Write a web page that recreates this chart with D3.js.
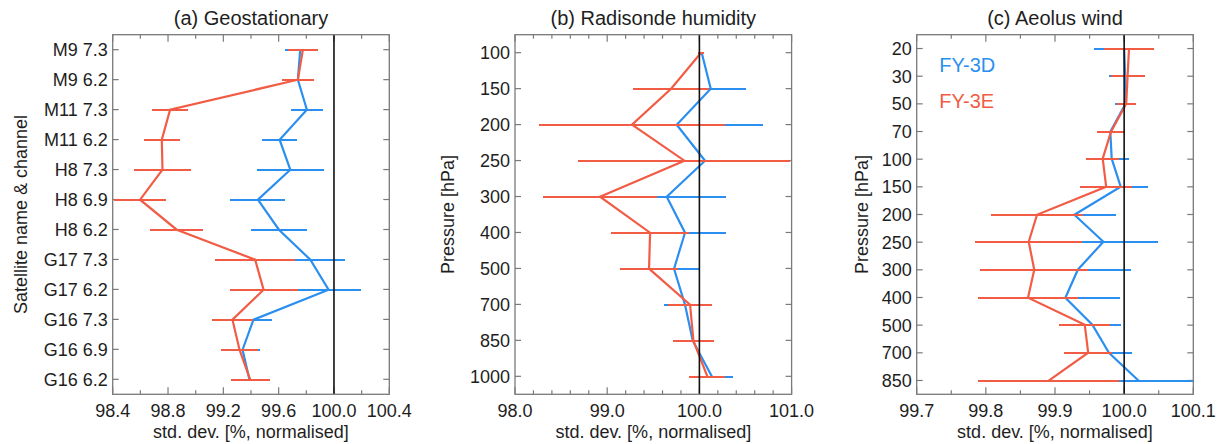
<!DOCTYPE html>
<html>
<head>
<meta charset="utf-8">
<script src="https://cdn.jsdelivr.net/npm/d3@7"></script>
<style>
	body { margin: 0; background: #fff; }
	svg { display: block; font-family: "Liberation Sans", Arial, sans-serif; }
</style>
</head>
<body>
<div id="chart"></div>
<script>
var colors = {
	fy3d: "#2b8ff0",
	fy3e: "#f25c45",
	frame: "#7a7a7a",
	text: "#1e1e1e"
};

// (a) geostationary radiances
var geoLabels = ["M9 7.3", "M9 6.2", "M11 7.3", "M11 6.2", "H8 7.3", "H8 6.9", "H8 6.2", "G17 7.3", "G17 6.2", "G16 7.3", "G16 6.9", "G16 6.2"];
var geo3D    = [99.756, 99.739, 99.804, 99.607, 99.684, 99.450, 99.602, 99.829, 99.961, 99.418, 99.339, 99.389];
var geo3DErr = [0.113, 0.105, 0.118, 0.127, 0.241, 0.199, 0.203, 0.253, 0.234, 0.133, 0.123, 0.100];
var geo3E    = [99.775, 99.739, 98.815, 98.755, 98.760, 98.598, 98.863, 99.430, 99.491, 99.266, 99.317, 99.394];
var geo3EErr = [0.107, 0.115, 0.129, 0.132, 0.209, 0.190, 0.191, 0.290, 0.246, 0.150, 0.135, 0.140];

// (b) radiosonde humidity
var raobLevels = ["100", "150", "200", "250", "300", "400", "500", "700", "850", "1000"];
var raob3D    = [100.025, 100.123, 99.754, 100.061, 99.646, 99.844, 99.725, 99.844, 99.928, 100.137];
var raob3DErr = [0.010, 0.383, 0.933, 0.800, 0.644, 0.445, 0.275, 0.224, 0.200, 0.224];
var raob3E    = [100.018, 99.693, 99.269, 99.837, 98.922, 99.465, 99.454, 99.899, 99.935, 100.087];
var raob3EErr = [0.035, 0.410, 1.010, 1.150, 0.615, 0.427, 0.310, 0.235, 0.224, 0.195];

// (c) aeolus wind
var aeolusLevels = ["20", "30", "50", "70", "100", "150", "200", "250", "300", "400", "500", "700", "850"];
var aeolus3D    = [100.000, 100.0015, 100.002, 99.980, 99.982, 99.995, 99.928, 99.970, 99.933, 99.915, 99.954, 99.978, 100.021];
var aeolus3DErr = [0.043, 0.024, 0.015, 0.018, 0.025, 0.040, 0.060, 0.079, 0.077, 0.079, 0.041, 0.034, 0.100];
var aeolus3E    = [100.007, 100.005, 100.003, 99.981, 99.969, 99.974, 99.874, 99.862, 99.870, 99.861, 99.943, 99.948, 99.891];
var aeolus3EErr = [0.036, 0.0245, 0.014, 0.0197, 0.024, 0.0375, 0.066, 0.077, 0.078, 0.072, 0.037, 0.035, 0.102];

var seriesNames = ["FY-3D", "FY-3E"];

var panels = [
	{
		title: "(a) Geostationary", ylabel: "Satellite name & channel",
		left: 112.7, ylabelX: 20,
		cats: geoLabels, d3d: geo3D, e3d: geo3DErr, d3e: geo3E, e3e: geo3EErr,
		domain: [98.4, 100.4], major: [98.4, 98.8, 99.2, 99.6, 100.0, 100.4], minor: [98.6, 99.0, 99.4, 99.8, 100.2]
	},
	{
		title: "(b) Radisonde humidity", ylabel: "Pressure [hPa]",
		left: 515, ylabelX: 447,
		cats: raobLevels, d3d: raob3D, e3d: raob3DErr, d3e: raob3E, e3e: raob3EErr,
		domain: [98.0, 101.0], major: [98, 99, 100, 101],
		minor: [98.2, 98.4, 98.6, 98.8, 99.2, 99.4, 99.6, 99.8, 100.2, 100.4, 100.6, 100.8]
	},
	{
		title: "(c) Aeolus wind", ylabel: "Pressure [hPa]",
		left: 916.7, ylabelX: 861, legend: true,
		cats: aeolusLevels, d3d: aeolus3D, e3d: aeolus3DErr, d3e: aeolus3E, e3e: aeolus3EErr,
		domain: [99.7, 100.1], major: [99.7, 99.8, 99.9, 100.0, 100.1], minor: [99.75, 99.85, 99.95, 100.05]
	}
];

var fmt = d3.format(".1f");
var W = 1221, H = 444;
var plotW = 276.6, plotTop = 34.7, plotH = 359.6;

var svg = d3.select("#chart").append("svg")
	.attr("width", W)
	.attr("height", H);

panels.forEach(function(p, pi){

	var g = svg.append("g").attr("transform", "translate(" + p.left + "," + plotTop + ")");

	var x = d3.scaleLinear().domain(p.domain).range([0, plotW]);
	var y = d3.scalePoint().domain(p.cats).range([0, plotH]).padding(0.5);

	g.append("clipPath").attr("id", "clip" + pi)
		.append("rect").attr("width", plotW).attr("height", plotH);

	// title
	g.append("text")
		.attr("x", plotW / 2)
		.attr("y", -10)
		.attr("text-anchor", "middle")
		.style("font-size", "20px")
		.style("fill", colors.text)
		.text(p.title);

	// y axis title
	svg.append("text")
		.attr("transform", "translate(" + (p.ylabelX + 7) + "," + (plotTop + plotH / 2) + ") rotate(-90)")
		.attr("text-anchor", "middle")
		.style("font-size", "18px")
		.style("fill", colors.text)
		.text(p.ylabel);

	// x axis label
	g.append("text")
		.attr("x", plotW / 2)
		.attr("y", plotH + 44)
		.attr("text-anchor", "middle")
		.style("font-size", "18px")
		.style("fill", colors.text)
		.text("std. dev. [%, normalised]");

	// ticks, inward, on all four sides
	var ticks = g.append("g").attr("class", "ticks")
		.style("stroke", colors.frame).style("stroke-width", 1.2);

	p.major.forEach(function(v){
		ticks.append("line").attr("x1", x(v)).attr("x2", x(v)).attr("y1", plotH).attr("y2", plotH - 7);
		ticks.append("line").attr("x1", x(v)).attr("x2", x(v)).attr("y1", 0).attr("y2", 7);
	});
	p.minor.forEach(function(v){
		ticks.append("line").attr("x1", x(v)).attr("x2", x(v)).attr("y1", plotH).attr("y2", plotH - 4);
		ticks.append("line").attr("x1", x(v)).attr("x2", x(v)).attr("y1", 0).attr("y2", 4);
	});
	p.cats.forEach(function(c){
		ticks.append("line").attr("x1", 0).attr("x2", 6).attr("y1", y(c)).attr("y2", y(c));
		ticks.append("line").attr("x1", plotW).attr("x2", plotW - 6).attr("y1", y(c)).attr("y2", y(c));
	});

	g.selectAll(".xlab")
		.data(p.major)
		.enter().append("text")
			.attr("class", "xlab")
			.attr("x", function(d){ return x(d); })
			.attr("y", plotH + 23)
			.attr("text-anchor", "middle")
			.style("font-size", "18px")
			.style("fill", colors.text)
			.text(function(d){ return fmt(d); });

	g.selectAll(".ylab")
		.data(p.cats)
		.enter().append("text")
			.attr("class", "ylab")
			.attr("x", -5)
			.attr("y", function(d){ return y(d); })
			.attr("dy", "0.36em")
			.attr("text-anchor", "end")
			.style("font-size", "18px")
			.style("fill", colors.text)
			.text(function(d){ return d; });

	var plot = g.append("g").attr("clip-path", "url(#clip" + pi + ")");

	var series = [
		{vals: p.d3d, errs: p.e3d, color: colors.fy3d},
		{vals: p.d3e, errs: p.e3e, color: colors.fy3e}
	];

	series.forEach(function(s){
		var pts = s.vals.map(function(v, i){ return {cat: p.cats[i], v: v, e: s.errs[i]}; });

		// error bars, snapped to whole pixels so the red ones cover the blue cleanly
		plot.selectAll(null)
			.data(pts)
			.enter().append("line")
				.attr("x1", function(d){ return x(d.v - d.e); })
				.attr("x2", function(d){ return x(d.v + d.e); })
				.attr("y1", function(d){ return Math.round(y(d.cat)); })
				.attr("y2", function(d){ return Math.round(y(d.cat)); })
				.attr("shape-rendering", "crispEdges")
				.style("stroke", s.color)
				.style("stroke-width", 2);

		var line = d3.line()
			.x(function(d){ return x(d.v); })
			.y(function(d){ return Math.round(y(d.cat)); });

		plot.append("path")
			.datum(pts)
			.attr("d", line)
			.style("fill", "none")
			.style("stroke", s.color)
			.style("stroke-width", 2.2);
	});

	// reference line at 100 %
	g.append("line")
		.attr("x1", x(100)).attr("x2", x(100))
		.attr("y1", 0).attr("y2", plotH)
		.style("stroke", "#111")
		.style("stroke-width", 1.6);

	// frame
	g.append("rect")
		.attr("width", plotW)
		.attr("height", plotH)
		.style("fill", "none")
		.style("stroke", colors.frame)
		.style("stroke-width", 1.3);

	if (p.legend){
		[colors.fy3d, colors.fy3e].forEach(function(c, i){
			g.append("text")
				.attr("x", 22.6)
				.attr("y", 37 + i * 36.3)
				.style("font-size", "20px")
				.style("fill", c)
				.text(seriesNames[i]);
		});
	}
});
</script>
</body>
</html>
